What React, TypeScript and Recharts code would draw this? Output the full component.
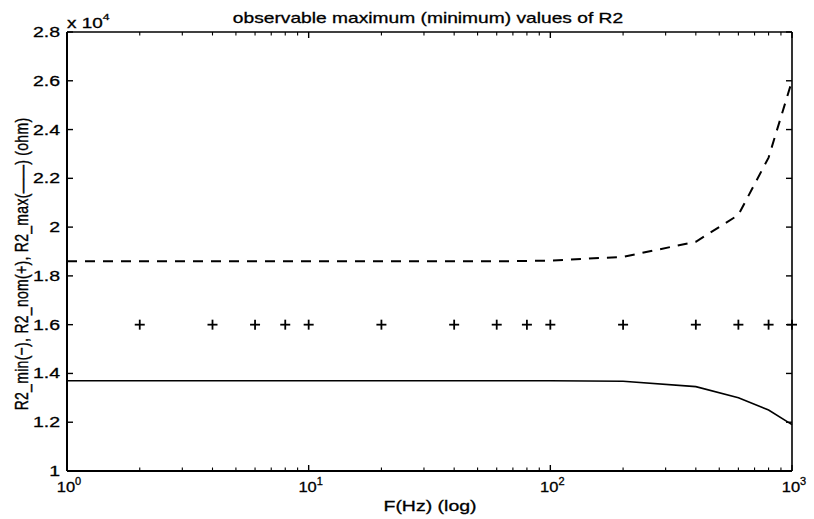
import React from "react";
import { LineChart, Line, XAxis, YAxis, ReferenceLine } from "recharts";

const freqs = [1, 2, 4, 6, 8, 10, 20, 40, 60, 80, 100, 200, 400, 600, 800, 1000];
const r2Min = [13700, 13700, 13700, 13700, 13700, 13700, 13700, 13700, 13700, 13700, 13700, 13680, 13460, 13000, 12500, 11900];
const r2Nom = [null, 16000, 16000, 16000, 16000, 16000, 16000, 16000, 16000, 16000, 16000, 16000, 16000, 16000, 16000, 16000];
const r2Max = [18600, 18600, 18600, 18600, 18600, 18600, 18600, 18600, 18600, 18610, 18630, 18780, 19400, 20500, 22850, 26000];

const xMajorTicks = [1, 10, 100, 1000];
const xMinorTicks = [2, 3, 4, 5, 6, 7, 8, 9, 20, 30, 40, 50, 60, 70, 80, 90, 200, 300, 400, 500, 600, 700, 800, 900];
const xAllTicks = [...xMajorTicks, ...xMinorTicks].sort((a, b) => a - b);
const yTicks = [10000, 12000, 14000, 16000, 18000, 20000, 22000, 24000, 26000, 28000];

const title = "observable maximum (minimum) values of R2";
const xTitle = "F(Hz) (log)";
const yTitle = "R2_min(\u2212), R2_nom(+), R2_max(\u2014\u2014) (ohm)";

const data = freqs.map((f, i) => ({ f, min: r2Min[i], nom: r2Nom[i], max: r2Max[i] }));

// layout of the plotting box (pixels inside the 814x519 svg)
const BOX = { left: 67, right: 792, top: 32, bottom: 471 };
const STRETCH = 1.3;

const FONT = "'Liberation Sans', Arial, Helvetica, sans-serif";
const TXT = { fontFamily: FONT, fill: "#000", stroke: "#000", strokeWidth: 0.3 } as const;

const PlusDot = (props: any) => {
  const { cx, cy, value } = props;
  if (value == null || cx == null || cy == null) return <g />;
  const s = 5;
  return (
    <g>
      <line x1={cx - s} y1={cy} x2={cx + s} y2={cy} stroke="#000" strokeWidth={1.8} />
      <line x1={cx} y1={cy - s} x2={cx} y2={cy + s} stroke="#000" strokeWidth={1.8} />
    </g>
  );
};

const XTick = (props: any) => {
  const { x, payload } = props;
  const v = payload.value;
  const major = xMajorTicks.includes(v);
  const len = major ? 6 : 3.5;
  const exp = Math.round(Math.log10(v));
  return (
    <g>
      <line x1={x} y1={BOX.bottom} x2={x} y2={BOX.bottom - len} stroke="#000" strokeWidth={major ? 1.4 : 1.1} />
      <line x1={x} y1={BOX.top} x2={x} y2={BOX.top + len} stroke="#000" strokeWidth={major ? 1.4 : 1.1} />
      {major && (
        <text
          transform={`translate(${x + 2},${BOX.bottom + 21}) scale(1.1,1)`}
          textAnchor="middle"
          fontSize={15}
          {...TXT}
        >
          <tspan>10</tspan>
          <tspan dy={-7} fontSize={10}>{exp}</tspan>
        </text>
      )}
    </g>
  );
};

const YTick = (props: any) => {
  const { y, payload } = props;
  const v = Math.round(payload.value / 1000) / 10;
  return (
    <g>
      <line x1={BOX.left} y1={y} x2={BOX.left + 6} y2={y} stroke="#000" strokeWidth={1.4} />
      <line x1={BOX.right} y1={y} x2={BOX.right - 6} y2={y} stroke="#000" strokeWidth={1.4} />
      <text
        transform={`translate(${BOX.left - 7},${y + 5}) scale(${STRETCH},1)`}
        textAnchor="end"
        fontSize={15}
        {...TXT}
      >
        {String(v)}
      </text>
    </g>
  );
};

const Texts = () => (
  <g>
    <text transform={`translate(428,23) scale(1.28,1)`} textAnchor="middle" fontSize={15} {...TXT}>
      {title}
    </text>
    <text transform={`translate(430,511) scale(${STRETCH},1)`} textAnchor="middle" fontSize={15} {...TXT}>
      {xTitle}
    </text>
    <text
      transform={`translate(28,264) rotate(-90) scale(1,${STRETCH})`}
      textAnchor="middle"
      fontSize={14}
      letterSpacing={0.3}
      {...TXT}
    >
      {yTitle}
    </text>
    <text transform={`translate(67,28) scale(1.35,1)`} fontSize={14} {...TXT}>
      <tspan>{"x 10"}</tspan>
      <tspan dy={-8} fontSize={9}>4</tspan>
    </text>
  </g>
);

export default function App() {
  return (
    <div style={{ position: "absolute", left: 0, top: 0, background: "#fff" }}>
      <LineChart
        width={814}
        height={519}
        data={data}
        margin={{ top: BOX.top, right: 814 - BOX.right, bottom: 0, left: 0 }}
      >
        <XAxis
          dataKey="f"
          type="number"
          scale="log"
          domain={[1, 1000]}
          ticks={xAllTicks}
          interval={0}
          height={519 - BOX.bottom}
          tick={<XTick />}
          tickLine={false}
          tickSize={0}
          axisLine={{ stroke: "#000", strokeWidth: 2 }}
        />
        <YAxis
          type="number"
          domain={[10000, 28000]}
          ticks={yTicks}
          interval={0}
          width={BOX.left}
          tick={<YTick />}
          tickLine={false}
          tickSize={0}
          axisLine={{ stroke: "#000", strokeWidth: 2 }}
          label={{ content: () => <Texts /> }}
        />
        <ReferenceLine y={28000} stroke="#000" strokeWidth={1.6} ifOverflow="visible" />
        <ReferenceLine x={1000} stroke="#000" strokeWidth={1.6} ifOverflow="visible" />
        <Line
          dataKey="max"
          stroke="#000"
          strokeWidth={2}
          strokeDasharray="10 8"
          dot={false}
          isAnimationActive={false}
        />
        <Line dataKey="min" stroke="#000" strokeWidth={1.6} dot={false} isAnimationActive={false} />
        <Line
          dataKey="nom"
          stroke="none"
          strokeWidth={0}
          dot={<PlusDot />}
          activeDot={false}
          isAnimationActive={false}
        />
      </LineChart>
    </div>
  );
}
